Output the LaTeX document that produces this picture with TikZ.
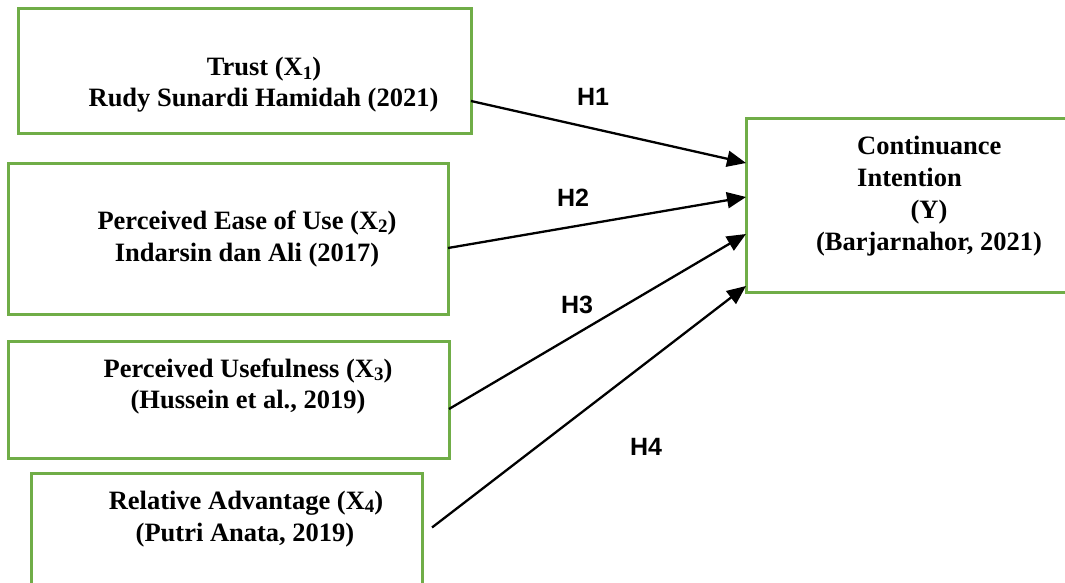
\documentclass[tikz,border=0pt]{standalone}
\usepackage{fontspec}
\setmainfont{Liberation Serif}
\newfontfamily\hfont{Liberation Sans}
\usetikzlibrary{arrows.meta}
\definecolor{boxgreen}{RGB}{112,173,71}
\tikzset{
  varbox/.style={draw=boxgreen, line width=3pt, rectangle, inner sep=0pt, outer sep=0pt},
  txt/.style={anchor=base, inner sep=0pt, font=\fontsize{26.5}{31}\selectfont\bfseries},
  hlab/.style={anchor=center, inner sep=0pt, font=\fontsize{25}{30}\selectfont\hfont\bfseries},
  conn/.style={line width=2.3pt, -{Triangle[length=19pt,width=16pt]}}
}
\newcommand{\subdig}[1]{\raisebox{-0.12em}{\fontsize{19}{20}\selectfont #1}}
\begin{document}
\begin{tikzpicture}[x=1pt,y=-1pt]
\useasboundingbox (0,0) rectangle (1065,583);
\clip (0,0) rectangle (1065,583);
% boxes
\node[varbox, minimum width=453pt, minimum height=125pt] (b1) at (244.5,71.5) {};
\node[varbox, minimum width=440pt, minimum height=151pt] (b2) at (228,238.5) {};
\node[varbox, minimum width=441pt, minimum height=117pt] (b3) at (228.5,399.5) {};
\node[varbox, minimum width=391pt, minimum height=140pt] (b4) at (226.5,543) {};
\node[varbox, minimum width=340pt, minimum height=173pt] (by) at (916,205.5) {};
% texts
\node[txt] (t1a) at (264,76) {Trust (X\subdig{1})};
\node[txt] (t1b) at (263.5,107) {Rudy Sunardi Hamidah (2021)};
\node[txt] (t2a) at (247,229) {Perceived Ease of Use (X\subdig{2})};
\node[txt] (t2b) at (247,261) {Indarsin dan Ali (2017)};
\node[txt] (t3a) at (248,377) {Perceived Usefulness (X\subdig{3})};
\node[txt] (t3b) at (248,408) {(Hussein et al., 2019)};
\node[txt] (t4a) at (246,509) {Relative Advantage (X\subdig{4})};
\node[txt] (t4b) at (245,541) {(Putri Anata, 2019)};
\node[txt, anchor=base west] (tya) at (857,154) {Continuance};
\node[txt, anchor=base west] (tyb) at (857,186) {Intention};
\node[txt] (tyc) at (929,218) {(Y)};
\node[txt] (tyd) at (929,250) {(Barjarnahor, 2021)};
% connectors
\draw[conn] ([yshift=-29.5pt]b1.east) -- ([yshift=42.5pt]by.west);
\draw[conn] ([yshift=-9.5pt]b2.east) -- ([yshift=8.5pt]by.west);
\draw[conn] ([yshift=-9.5pt]b3.east) -- ([yshift=-28.5pt]by.west);
\draw[conn] ([xshift=10pt,yshift=15.5pt]b4.east) -- ([yshift=-80.5pt]by.west);
% hypothesis labels
\node[hlab] (h1) at (593,97) {H1};
\node[hlab] (h2) at (573,198) {H2};
\node[hlab] (h3) at (577,305) {H3};
\node[hlab] (h4) at (646,447) {H4};
\end{tikzpicture}
\end{document}
